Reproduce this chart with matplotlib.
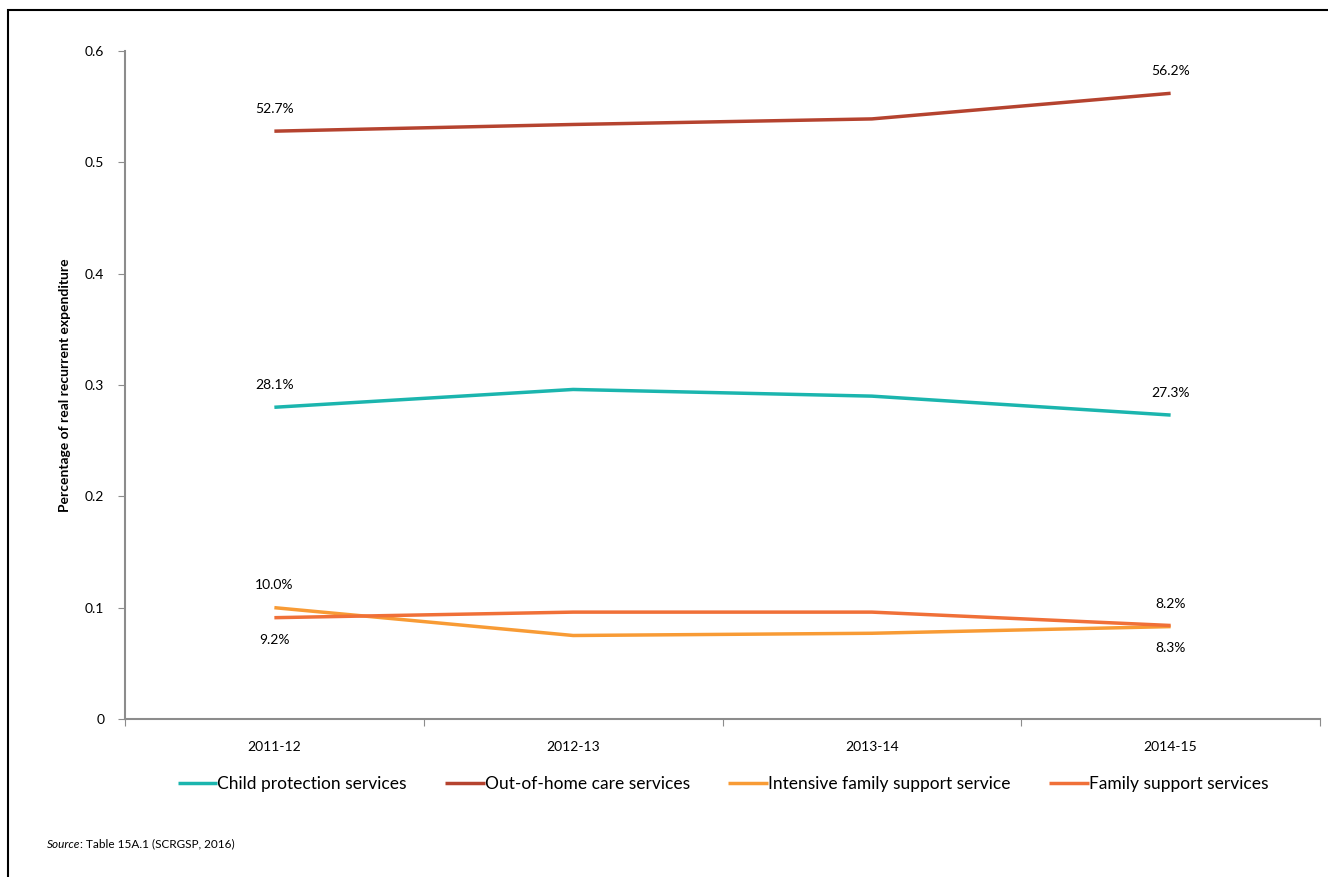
import matplotlib
matplotlib.use("Agg")
import matplotlib.pyplot as plt
from matplotlib.patches import Rectangle

plt.rcParams['font.family'] = ['Lato', 'DejaVu Sans']

years = ["2011-12", "2012-13", "2013-14", "2014-15"]
child_protection = [0.280, 0.296, 0.290, 0.273]
out_of_home = [0.528, 0.534, 0.539, 0.562]
intensive_support = [0.100, 0.075, 0.077, 0.083]
family_support = [0.091, 0.096, 0.096, 0.084]

# end-point labels as printed on the chart
labels_child = ["28.1%", "27.3%"]
labels_ooh = ["52.7%", "56.2%"]
labels_intensive = ["10.0%", "8.2%"]
labels_family = ["9.2%", "8.3%"]

series = [
    ("Child protection services", child_protection, "#1BB5AE", labels_child, 1),
    ("Out-of-home care services", out_of_home, "#B5432F", labels_ooh, 1),
    ("Intensive family support service", intensive_support, "#F89B35", labels_intensive, 1),
    ("Family support services", family_support, "#F07038", labels_family, -1),
]

fig = plt.figure(figsize=(13.28, 8.77), dpi=100)
ax = fig.add_axes([125 / 1328, 1 - 719 / 877, 1195 / 1328, 668 / 877])

x = list(range(len(years)))
for name, vals, col, labs, side in series:
    ax.plot(x, vals, color=col, lw=2.5, label=name, solid_capstyle="butt")
    for i, lab in zip([0, len(x) - 1], labs):
        ax.annotate(lab, (x[i], vals[i]), xytext=(0, 16 * side), textcoords="offset points",
                    ha="center", va="center", fontsize=10)

ax.set_xlim(-0.5, len(years) - 0.5)
ax.set_ylim(0, 0.6)
ax.set_yticks([0, 0.1, 0.2, 0.3, 0.4, 0.5, 0.6])
ax.set_yticklabels(["0", "0.1", "0.2", "0.3", "0.4", "0.5", "0.6"])
ax.set_xticks([i - 0.5 for i in range(len(years) + 1)])
ax.set_xticklabels([])
ax.set_xticks(x, minor=True)
ax.set_xticklabels(years, minor=True)
ax.tick_params(axis="x", which="minor", length=0, pad=16, labelsize=10)
ax.tick_params(axis="x", which="major", length=5, color="#8c8c8c", direction="out")
ax.tick_params(axis="y", length=5, color="#8c8c8c", labelsize=10, pad=10)
for s in ["top", "right"]:
    ax.spines[s].set_visible(False)
for s in ["left", "bottom"]:
    ax.spines[s].set_color("#8c8c8c")
    ax.spines[s].set_linewidth(1.5)
ax.set_ylabel("Percentage of real recurrent expenditure", fontsize=10, fontweight="bold", labelpad=10)

fig.legend(loc="center", bbox_to_anchor=(723 / 1328, 1 - 784 / 877), ncol=4, frameon=False,
           fontsize=12.5, handlelength=2.3, handletextpad=0.0, columnspacing=2.2)

src = fig.text(47 / 1328, 1 - 844 / 877, "Source", fontsize=8.5, style="italic", va="center")
ax.annotate(": Table 15A.1 (SCRGSP, 2016)", xy=(1, 0.5), xycoords=src, va="center",
            ha="left", fontsize=8.5)

# figure frame (only top and left edges visible in the original)
fig.patches.append(Rectangle((8 / 1328, -0.1), 1.2, 1 - 10 / 877 + 0.1, transform=fig.transFigure,
                             fill=False, edgecolor="black", lw=1.5, figure=fig))

fig.savefig("out.png", dpi=100)
